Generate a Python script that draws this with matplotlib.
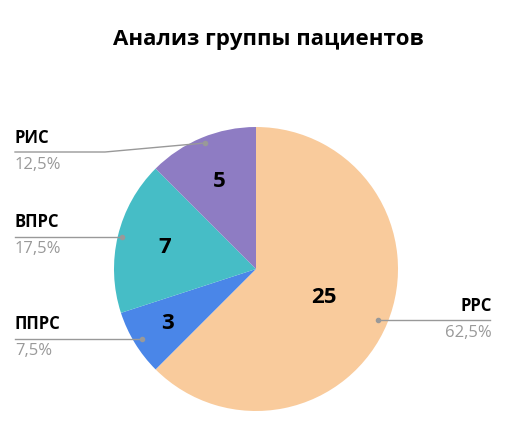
import matplotlib.pyplot as plt
import numpy as np

labels = ["РРС", "ППРС", "ВПРС", "РИС"]
values = [25, 3, 7, 5]
colors = ["#F9CB9C", "#4A86E8", "#46BDC6", "#8E7CC3"]
pct = ["62,5%", "7,5%", "17,5%", "12,5%"]

plt.rcParams['font.family'] = ['Open Sans', 'DejaVu Sans']
W, H = 507, 428
cx, cy, R = 256, 269, 142
fig = plt.figure(figsize=(W / 100, H / 100), dpi=100)
ax = fig.add_axes([(cx - R) / W, (H - cy - R) / H, 2 * R / W, 2 * R / H])
wedges, _ = ax.pie(values, colors=colors, startangle=90, counterclock=False,
                   wedgeprops=dict(linewidth=0))
ax.set_xlim(-1, 1); ax.set_ylim(-1, 1); ax.set_aspect('equal'); ax.axis('off')

def d(px, py):
    return ((px - cx) / R, (cy - py) / R)

dist = [0.52, 0.73, 0.66, 0.67]
for w, v, r in zip(wedges, values, dist):
    a = np.deg2rad((w.theta1 + w.theta2) / 2)
    ax.text(r * np.cos(a), r * np.sin(a), str(v), ha='center', va='center',
            fontsize=16, fontweight='bold')

# outside labels: (text x, name y, line y, line start x, line end point)
outs = {
    "РИС": (15, 138, 152, 15, (205, 143)),
    "ВПРС": (15, 222, 237, 15, (122, 237)),
    "ППРС": (15, 324, 339, 15, (142, 339)),
    "РРС": (492, 306, 320, 490, (378, 320)),
}
for name, p in zip(labels, pct):
    tx, ny, ly, lx, end = outs[name]
    ha = 'right' if tx > cx else 'left'
    ax.text(*d(tx, ny), name, ha=ha, va='center', fontsize=12,
            fontweight='bold', clip_on=False)
    ax.text(*d(tx, ny + 27), p, ha=ha, va='center', fontsize=12,
            color='#999999', clip_on=False)
    mid = 105 if tx < cx else 420
    xs = [lx, mid, end[0]] if tx < cx else [lx, end[0]]
    ys = [ly, ly, end[1]] if tx < cx else [ly, end[1]]
    ax.plot([d(x, y)[0] for x, y in zip(xs, ys)],
            [d(x, y)[1] for x, y in zip(xs, ys)],
            color='#999999', lw=1, clip_on=False)
    ax.plot(*d(*end), 'o', ms=3, color='#999999', clip_on=False)

fig.text(0.53, 1 - 40 / H, "Анализ группы пациентов", ha='center', va='center',
         fontsize=16, fontweight='bold')
fig.savefig("out.png", dpi=100)
